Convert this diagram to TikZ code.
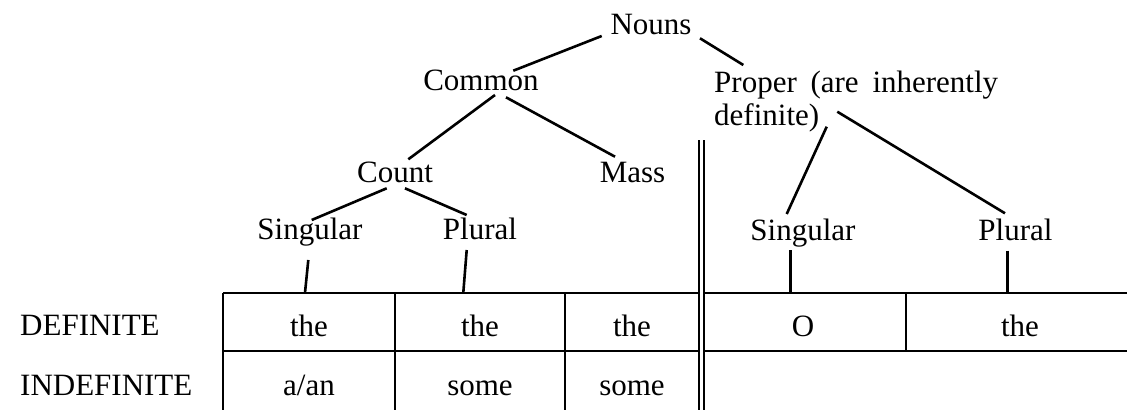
\documentclass[tikz,border=0pt]{standalone}
\usepackage{fontspec}
\setmainfont{Liberation Serif}
\usetikzlibrary{calc}
\begin{document}
\begin{tikzpicture}[x=1pt,y=-1pt,
  lbl/.style={anchor=base,inner sep=0pt,font=\fontsize{31pt}{37pt}\selectfont},
  con/.style={line width=2.6pt},
  rule/.style={line width=1.8pt}]
\useasboundingbox (0,0) rectangle (1127,410);
% tree labels
\node[lbl] (nouns) at (651,34) {Nouns};
\node[lbl] (common) at (481,90.7) {Common};
\node[lbl,anchor=base west] (proper1) at (714,92) {\makebox[284pt][s]{Proper (are inherently}};
\node[lbl,anchor=base west] (proper2) at (714,125) {definite)};
\node[lbl] (count) at (395,182.7) {Count};
\node[lbl] (mass) at (632.5,182.7) {Mass};
\node[lbl] (singL) at (310,239) {Singular};
\node[lbl] (plurL) at (480,239.3) {Plural};
\node[lbl] (singR) at (803,240) {Singular};
\node[lbl] (plurR) at (1015.5,240) {Plural};
% row labels
\node[lbl,anchor=base west] (def) at (20,335) {DEFINITE};
\node[lbl,anchor=base west] (indef) at (20,395) {INDEFINITE};
% cells
\node[lbl] (c11) at (309,336) {the};
\node[lbl] (c12) at (480,336) {the};
\node[lbl] (c13) at (632,336) {the};
\node[lbl] (c14) at (803,336) {O};
\node[lbl] (c15) at (1020,336) {the};
\node[lbl] (c21) at (309,395) {a/an};
\node[lbl] (c22) at (480,395) {some};
\node[lbl] (c23) at (632,395) {some};
% table attachment points
\coordinate (tSL) at (305,292.7);
\coordinate (tPL) at (463.3,292.7);
\coordinate (tSR) at (790.7,292.7);
\coordinate (tPR) at (1007.3,292.7);
% tree connectors
\draw[con] ($(nouns.base)+(-49.3,2)$) -- ($(common.base)+(32.3,-20)$);
\draw[con] ($(nouns.base)+(49,4.3)$) -- ($(proper1.base west)+(29.3,-27)$);
\draw[con] ($(common.base)+(14,4.3)$) -- ($(count.base)+(13.3,-23.4)$);
\draw[con] ($(common.base)+(25,6.6)$) -- ($(mass.base)+(-17.5,-26)$);
\draw[con] ($(count.base)+(-8.3,5.6)$) -- ($(singL.base)+(1.7,-19)$);
\draw[con] ($(count.base)+(10,5.6)$) -- ($(plurL.base)+(-13.3,-24.3)$);
\draw[con] ($(proper2.base west)+(112.7,1.7)$) -- ($(singR.base)+(-16.3,-26)$);
\draw[con] ($(proper2.base west)+(123.3,-13.3)$) -- ($(plurR.base)+(-10.5,-26.7)$);
\draw[con] ($(singL.base)+(-1.7,21)$) -- (tSL);
\draw[con] ($(plurL.base)+(-13.3,10.7)$) -- (tPL);
\draw[con] ($(singR.base)+(-12.3,10)$) -- (tSR);
\draw[con] ($(plurR.base)+(-8.2,10.7)$) -- (tPR);
% table rules
\draw[rule] (223,292.7) -- (699,292.7);
\draw[rule] (704,292.7) -- (1127,292.7);
\draw[rule] (223,350.7) -- (699,350.7);
\draw[rule] (704,350.7) -- (1127,350.7);
\draw[rule] (223,292.7) -- (223,410);
\draw[rule] (395,292.7) -- (395,410);
\draw[rule] (565,292.7) -- (565,410);
\draw[rule] (699,140) -- (699,410);
\draw[rule] (704,140) -- (704,410);
\draw[rule] (906,292.7) -- (906,350.7);
\end{tikzpicture}
\end{document}
